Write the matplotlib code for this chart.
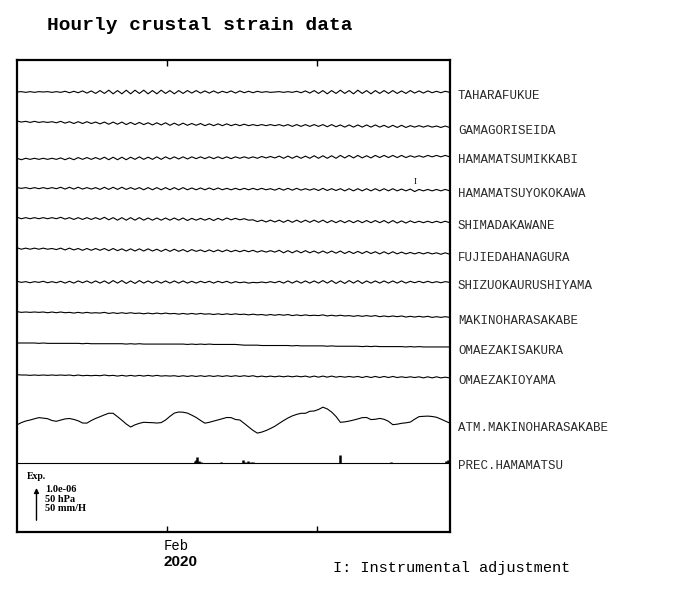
import matplotlib
matplotlib.use("Agg")
import matplotlib.pyplot as plt
import matplotlib.transforms as mtransforms

# time axis: days since 2020-01-22 00:00, one sample every 7 hours
step_days = 7 / 24
n_samples = 100
days = [i * step_days for i in range(n_samples)]
feb1 = 10.0
xmax = 28.9

stations = ["TAHARAFUKUE", "GAMAGORISEIDA", "HAMAMATSUMIKKABI", "HAMAMATSUYOKOKAWA",
            "SHIMADAKAWANE", "FUJIEDAHANAGURA", "SHIZUOKAURUSHIYAMA", "MAKINOHARASAKABE",
            "OMAEZAKISAKURA", "OMAEZAKIOYAMA"]

# strain, units of 1e-8 (relative to first sample)
taharafukue = [0, 1, -1, 1, -1, 1, 0, 1, -1, 1,
               -1, 2, -2, 2, -2, 3, -3, 3, -4, 4,
               -4, 5, -5, 4, -5, 5, -5, 5, -4, 5,
               -5, 4, -5, 5, -4, 4, -5, 4, -4, 4,
               -3, 4, -3, 3, -3, 3, -3, 2, -2, 3,
               -3, 3, -2, 2, -2, 2, -1, 1, -1, 0,
               1, -1, 1, -1, 2, -2, 3, -3, 4, -4,
               4, -5, 4, -4, 5, -4, 4, -5, 5, -4,
               4, -5, 4, -4, 4, -4, 4, -4, 3, -4,
               4, -3, 3, -3, 3, -2, 2, -2, 2, -1]
gamagoriseida = [2, -1, 1, -2, 1, -2, 0, -2, 0, -3,
                 1, -4, 0, -5, 0, -5, 0, -5, -1, -6,
                 -1, -7, -1, -7, -1, -8, -2, -8, -2, -8,
                 -3, -9, -3, -9, -3, -10, -4, -10, -4, -10,
                 -5, -10, -5, -11, -6, -11, -6, -11, -6, -11,
                 -7, -11, -7, -11, -8, -11, -8, -11, -8, -11,
                 -8, -12, -8, -13, -8, -13, -8, -13, -8, -13,
                 -8, -14, -8, -14, -9, -15, -9, -15, -9, -15,
                 -9, -15, -9, -15, -10, -16, -10, -16, -10, -16,
                 -11, -15, -11, -15, -11, -15, -12, -16, -12, -16]
hamamatsumikkabi = [2, -2, 2, -1, 2, -1, 2, -1, 2, -1,
                    3, -2, 3, -2, 4, -1, 4, -1, 4, -1,
                    5, -2, 5, -2, 5, -2, 5, -1, 6, -1,
                    5, -1, 6, -1, 6, 0, 6, 0, 6, 0,
                    6, 1, 6, 1, 6, 1, 6, 1, 6, 1,
                    6, 2, 6, 2, 6, 2, 7, 3, 7, 3,
                    8, 2, 8, 2, 8, 2, 8, 2, 9, 2,
                    9, 2, 9, 2, 10, 3, 10, 3, 10, 3,
                    9, 3, 10, 4, 10, 4, 10, 4, 10, 4,
                    9, 5, 9, 5, 10, 6, 10, 6, 10, 6]
hamamatsuyokokawa = [1, -1, 1, -2, 1, -2, 1, -2, 1, -2,
                     2, -3, 2, -3, 2, -3, 1, -3, 1, -4,
                     2, -4, 2, -4, 2, -4, 1, -4, 1, -5,
                     1, -5, 1, -5, 1, -5, 1, -5, 1, -5,
                     0, -5, 0, -5, 0, -5, 0, -5, -1, -5,
                     -1, -5, -1, -5, -1, -5, -1, -5, -2, -6,
                     -1, -6, -1, -6, -1, -6, -2, -6, -2, -7,
                     -1, -7, -2, -7, -2, -8, -2, -8, -2, -8,
                     -2, -8, -2, -8, -2, -8, -2, -8, -3, -8,
                     -3, -10, -4, -8, -4, -8, -4, -8, -4, -8]
shimadakawane = [2, -2, 1, -2, 1, -2, 1, -2, 1, -2,
                 2, -3, 1, -4, 1, -4, 1, -4, 1, -4,
                 2, -5, 1, -6, 1, -6, 1, -6, 1, -6,
                 0, -6, 0, -6, 0, -6, 0, -6, 0, -7,
                 -1, -6, -1, -6, -1, -7, -1, -6, 0, -5,
                 -1, -5, -2, -6, -5, -10, -6, -11, -6, -11,
                 -6, -12, -6, -12, -6, -12, -6, -12, -6, -12,
                 -6, -13, -7, -13, -7, -13, -7, -13, -7, -13,
                 -7, -13, -7, -13, -7, -14, -7, -14, -8, -14,
                 -8, -13, -9, -13, -9, -13, -9, -13, -9, -13]
fujiedahanagura = [2, -2, 1, -2, 1, -2, 1, -2, 0, -3,
                   1, -4, 1, -4, 0, -5, 0, -5, 0, -5,
                   0, -6, 0, -6, -1, -7, -1, -7, -1, -7,
                   -1, -7, -2, -8, -2, -8, -2, -8, -3, -9,
                   -3, -8, -4, -9, -4, -9, -4, -9, -4, -9,
                   -5, -9, -5, -9, -5, -10, -6, -10, -6, -10,
                   -5, -12, -6, -12, -6, -12, -6, -12, -7, -13,
                   -7, -13, -7, -13, -7, -14, -8, -14, -8, -14,
                   -8, -14, -9, -15, -9, -15, -9, -15, -10, -15,
                   -11, -15, -11, -15, -11, -15, -12, -16, -12, -16]
shizuokaurushiyama = [2, -1, 1, -2, 1, -1, 2, -2, 1, -2,
                      2, -3, 2, -3, 3, -2, 3, -3, 3, -3,
                      3, -4, 4, -3, 4, -4, 3, -4, 4, -3,
                      3, -3, 3, -3, 3, -3, 3, -3, 3, -3,
                      2, -3, 2, -2, 2, -3, 2, -2, 2, -3,
                      1, -2, 0, -3, -1, -2, 0, -2, 1, -2,
                      2, -3, 3, -3, 3, -3, 3, -3, 3, -3,
                      4, -3, 4, -4, 3, -4, 4, -3, 4, -4,
                      3, -3, 3, -3, 3, -3, 3, -3, 3, -3,
                      2, -2, 2, -2, 2, -2, 1, -2, 1, -1]
makinoharasakabe = [1, -1, 0, -1, 0, -1, 0, -2, 0, -2,
                    0, -2, -1, -3, -1, -3, -1, -3, -2, -3,
                    -1, -4, -2, -4, -2, -4, -2, -4, -3, -5,
                    -3, -5, -3, -5, -3, -5, -4, -6, -4, -6,
                    -4, -6, -4, -6, -5, -7, -5, -7, -5, -7,
                    -5, -7, -6, -8, -6, -8, -7, -9, -7, -9,
                    -7, -9, -7, -10, -8, -10, -8, -10, -9, -10,
                    -8, -11, -9, -11, -9, -11, -10, -12, -10, -12,
                    -10, -12, -10, -13, -11, -13, -11, -13, -11, -14,
                    -12, -14, -12, -14, -12, -15, -13, -15, -13, -15]
omaezakisakura = [0, 0, 0, 0, 0, -1, 0, -1, -1, -1,
                  -1, -1, -1, -1, -1, -2, -1, -2, -2, -2,
                  -2, -2, -2, -2, -2, -3, -2, -3, -2, -3,
                  -3, -3, -3, -3, -3, -3, -3, -3, -3, -4,
                  -3, -4, -3, -4, -3, -4, -4, -4, -4, -4,
                  -4, -5, -6, -6, -6, -6, -7, -7, -7, -7,
                  -7, -7, -7, -8, -7, -8, -8, -8, -8, -8,
                  -8, -9, -8, -9, -9, -9, -9, -9, -9, -10,
                  -9, -10, -9, -10, -10, -10, -10, -10, -10, -11,
                  -10, -11, -10, -11, -11, -11, -11, -11, -11, -11]
omaezakioyama = [1, 0, 0, -1, 0, -1, 0, -1, 0, -1,
                 0, -1, 0, -2, 0, -2, -1, -2, -1, -2,
                 0, -2, -1, -3, -1, -3, -1, -3, -1, -3,
                 -1, -3, -1, -3, -2, -3, -2, -4, -2, -4,
                 -2, -4, -2, -4, -2, -4, -2, -4, -2, -4,
                 -2, -4, -2, -4, -2, -5, -3, -5, -3, -5,
                 -3, -5, -3, -5, -3, -5, -3, -6, -3, -6,
                 -3, -6, -3, -6, -4, -6, -4, -6, -4, -7,
                 -4, -7, -4, -7, -4, -7, -4, -7, -5, -7,
                 -5, -7, -5, -8, -5, -8, -5, -8, -6, -8]

# ATM.MAKINOHARASAKABE, hPa
atm_hpa = [1008.3, 1011.4, 1013.6, 1015.0, 1016.7, 1018.3, 1017.6, 1016.8, 1014.3, 1013.2,
           1014.9, 1016.5, 1017.1, 1015.8, 1013.9, 1010.8, 1010.7, 1014.3, 1017.2, 1019.6,
           1022.1, 1024.4, 1024.3, 1019.6, 1014.7, 1009.4, 1005.3, 1008.3, 1010.4, 1011.8,
           1011.5, 1011.3, 1010.8, 1011.4, 1015.0, 1020.1, 1024.6, 1026.1, 1025.8, 1024.6,
           1021.7, 1018.5, 1014.4, 1010.6, 1011.8, 1013.5, 1015.1, 1016.8, 1018.5, 1018.3,
           1015.7, 1015.0, 1010.3, 1005.4, 1000.6, 996.8, 998.2, 1000.4, 1003.2, 1006.3,
           1010.3, 1014.2, 1017.8, 1020.7, 1022.8, 1024.3, 1024.3, 1027.1, 1027.5, 1029.6,
           1032.8, 1030.4, 1026.0, 1019.9, 1011.8, 1012.4, 1013.5, 1014.9, 1016.5, 1018.3,
           1018.5, 1015.6, 1016.0, 1017.2, 1016.0, 1013.2, 1008.5, 1009.2, 1010.4, 1011.1,
           1012.1, 1016.1, 1019.7, 1020.1, 1020.4, 1019.9, 1018.8, 1016.3, 1013.5, 1010.8]
atm_ref = 1015.0

# PREC.HAMAMATSU, mm/h
prec_days = [11.88, 11.96, 12.04, 12.13, 12.25, 13.6, 15.1, 15.2, 15.45, 15.6, 15.75,
             21.56, 24.93, 28.62, 28.75]
prec_mm = [2.5, 4.0, 8.5, 3.0, 1.5, 0.8, 4.5, 1.5, 2.5, 1.5, 1.0, 11.0, 1.0, 3.0, 4.5]

# instrumental adjustment (station index, sample index)
adjustments = [(3, 91)]

scale_lines = ["1.0e-06", "50 hPa", "50 mm/H"]

strain = [taharafukue, gamagoriseida, hamamatsumikkabi, hamamatsuyokokawa, shimadakawane,
          fujiedahanagura, shizuokaurushiyama, makinoharasakabe, omaezakisakura, omaezakioyama]

# layout: trace baselines in units of 1e-6 (= 50 hPa = 50 mm/H)
baselines = [12.222, 11.397, 10.361, 9.556, 8.722, 7.875, 6.944, 6.111, 5.25, 4.361]
atm_base = 3.111
prec_base = 1.917
ytop = 13.111

fig = plt.figure(figsize=(7, 5.9), dpi=100)
ax = fig.add_axes([17 / 700, 58 / 590, 433 / 700, 472 / 590])
ax.set_xlim(0, xmax)
ax.set_ylim(0, ytop)

mono = "Liberation Mono"
lab_tr = ax.get_yaxis_transform()
lab_color = "#2a2a2a"

for name, vals, base in zip(stations, strain, baselines):
    ys = [base + v / 100.0 for v in vals]
    ax.plot(days, ys, color="black", lw=0.8)
    ax.text(1.0185, ys[-1] - 0.1, name, transform=lab_tr, fontsize=9, family=mono,
            color=lab_color, va="center", ha="left")

for si, k in adjustments:
    y = baselines[si] + strain[si][k] / 100.0
    ax.text(days[k], y + 0.26, "I", fontsize=6.5, family="Liberation Serif",
            ha="center", va="center")

atm_y = [atm_base + (p - atm_ref) / 50.0 for p in atm_hpa]
ax.plot(days, atm_y, color="black", lw=0.8)
ax.text(1.0185, atm_y[-1] - 0.15, "ATM.MAKINOHARASAKABE", transform=lab_tr, fontsize=9,
        family=mono, color=lab_color, va="center", ha="left")

ax.axhline(prec_base, color="black", lw=0.8)
ax.vlines(prec_days, prec_base, [prec_base + m / 50.0 for m in prec_mm], color="black", lw=1.8)
ax.text(1.0185, prec_base - 0.08, "PREC.HAMAMATSU", transform=lab_tr, fontsize=9,
        family=mono, color=lab_color, va="center", ha="left")

# scale bar: arrow length = 1.0e-06 / 50 hPa / 50 mm/H
ax.annotate("", xy=(0.045, 1.3), xytext=(0.045, 0.25), xycoords=lab_tr,
            arrowprops=dict(arrowstyle="-|>", color="black", lw=1.0, mutation_scale=7))
ax.text(10 / 433, 1.53, "Exp.", transform=lab_tr, fontsize=7, family="Liberation Serif",
        fontweight="bold", va="center")
for i, s in enumerate(scale_lines):
    ax.text(28 / 433, 1.19 - i * 0.275, s, transform=lab_tr, fontsize=7.5,
            family="Liberation Serif", fontweight="bold", va="center")

# ticks
ax.set_xticks([feb1, feb1 + 10])
ax.set_yticks([])
ax.tick_params(axis="x", direction="in", length=4, width=1, top=True, labelbottom=False)
for sp in ax.spines.values():
    sp.set_linewidth(1.6)

xtr = mtransforms.blended_transform_factory(ax.transData, ax.transAxes)
ax.text(feb1 - 0.2, -0.03, "Feb", transform=xtr, fontsize=10, family=mono,
        va="center", ha="left")
ax.text(feb1 - 0.2, -0.063, "2020", transform=xtr, fontsize=11, family="Liberation Sans",
        fontweight="bold", va="center", ha="left")

fig.text(47 / 700, 1 - 25 / 590, "Hourly crustal strain data", fontsize=14, family=mono,
         fontweight="bold", va="center", ha="left")
fig.text(333 / 700, 1 - 568 / 590, "I: Instrumental adjustment", fontsize=11, family=mono,
         va="center", ha="left")

fig.savefig("out.png", dpi=100)
